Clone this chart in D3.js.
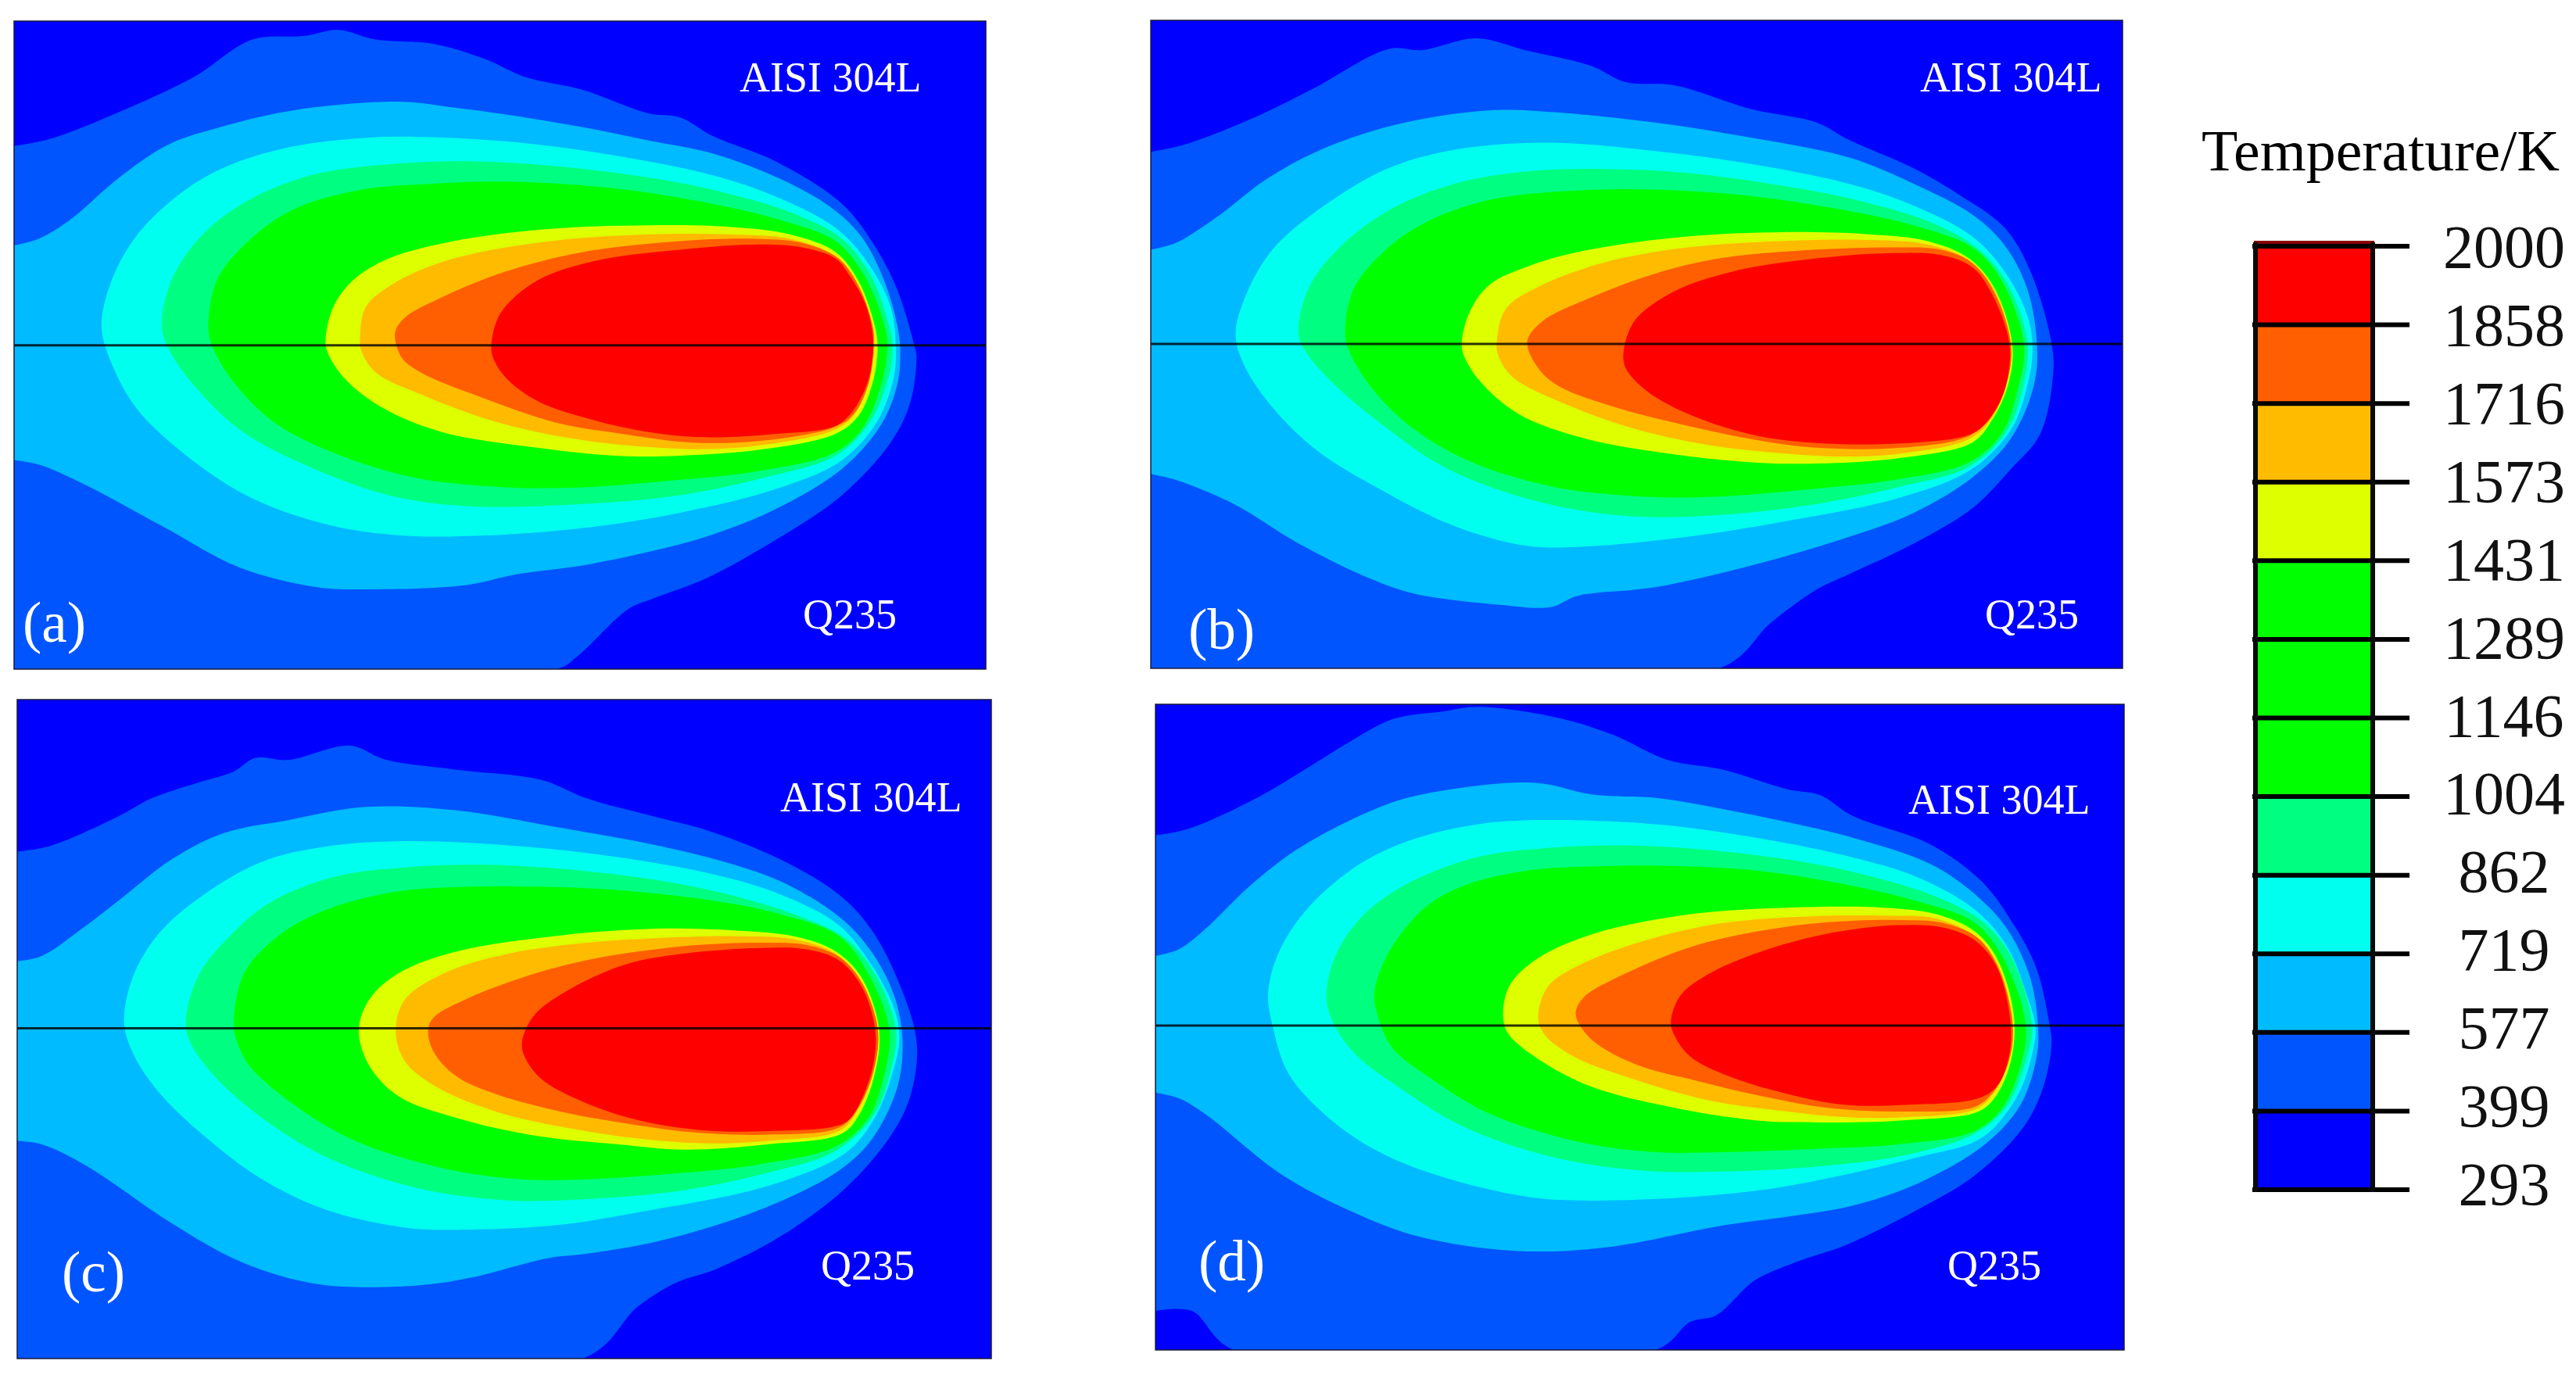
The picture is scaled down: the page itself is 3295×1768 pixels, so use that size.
<!DOCTYPE html>
<html><head><meta charset="utf-8">
<script src="https://d3js.org/d3.v7.min.js"></script>
<style>html,body{margin:0;padding:0;background:#fff}svg{display:block}text{font-family:"Liberation Serif",serif}</style>
</head><body><div id="c"></div>
<script>
// Colour legend
const legendTicks=["2000","1858","1716","1573","1431","1289","1146","1004","862","719","577","399","293"];
const legendColors=["#ff0000","#ff5f00","#ffbb00","#ddff00","#00ff00","#00ff00","#00ff00","#00ff80","#00ffee","#00bbff","#0055ff","#0000ff"];
// Colour of each contour band, outermost first
const bandColors=["#0055ff","#00bbff","#00ffee","#00ff80","#00ff00","#ddff00","#ffbb00","#ff5f00","#ff0000"];
const panelNames=["a","b","c","d"];
const plateLabels=["AISI 304L","Q235"];

// Contours (plate coordinates). Each array: 9 bands, outer to inner.
const contoursA=[
[[22,333],[75,318],[180,258],[300,175],[390,90],[470,82],[522,68],[580,90],[670,100],[750,135],[810,175],[900,205],[1000,258],[1050,268],[1100,310],[1200,370],[1300,465],[1350,560],[1385,660],[1412,790],[1415,815],[1405,920],[1375,1010],[1300,1130],[1200,1230],[1090,1320],[1010,1365],[970,1390],[890,1500],[860,1527],[22,1527]],
[[22,560],[60,545],[110,500],[180,410],[260,330],[340,290],[460,250],[620,232],[700,245],[800,265],[900,290],[1000,320],[1100,350],[1200,405],[1280,470],[1330,540],[1365,640],[1385,740],[1390,800],[1385,880],[1360,970],[1300,1070],[1200,1160],[1100,1220],[1000,1260],[900,1290],[800,1310],[720,1335],[560,1345],[490,1340],[370,1295],[250,1200],[130,1105],[60,1060],[22,1050]],
[[157,745],[170,650],[210,540],[280,440],[350,380],[450,335],[560,315],[640,312],[800,325],[950,355],[1100,400],[1200,450],[1290,520],[1340,600],[1375,700],[1383,790],[1380,860],[1355,960],[1300,1050],[1200,1115],[1050,1170],[900,1205],[750,1222],[620,1222],[500,1195],[380,1130],[280,1030],[210,930],[170,820]],
[[250,745],[265,640],[310,540],[380,460],[480,400],[600,375],[720,368],[850,378],[1000,405],[1120,440],[1230,490],[1300,545],[1345,630],[1370,730],[1378,790],[1370,870],[1340,970],[1290,1040],[1180,1090],[1050,1130],[900,1150],[720,1155],[600,1130],[470,1060],[370,980],[300,880],[262,800]],
[[322,745],[335,640],[380,555],[450,480],[550,435],[680,418],[800,415],[950,430],[1100,465],[1200,500],[1290,550],[1335,630],[1365,740],[1370,790],[1360,880],[1330,980],[1285,1035],[1170,1075],[1050,1095],[900,1112],[780,1112],[640,1090],[510,1030],[420,960],[360,870],[328,790]],
[[503,770],[515,700],[545,640],[600,590],[700,550],[850,522],[1000,514],[1130,518],[1220,535],[1290,575],[1325,640],[1350,740],[1355,790],[1348,870],[1325,950],[1290,990],[1180,1025],[1050,1040],[950,1040],[820,1020],[680,985],[590,930],[530,860],[505,800]],
[[556,770],[565,700],[610,645],[700,590],[850,550],[1000,535],[1130,535],[1220,545],[1290,585],[1325,650],[1348,750],[1350,790],[1342,870],[1320,945],[1290,980],[1180,1015],[1090,1025],[1000,1020],[880,1000],[760,960],[650,900],[580,850],[558,800]],
[[610,760],[625,725],[680,680],[780,620],[900,575],[1050,550],[1170,545],[1240,555],[1295,590],[1328,660],[1348,750],[1348,790],[1342,870],[1318,945],[1288,975],[1180,1005],[1070,1010],[960,990],[860,965],[740,905],[650,850],[620,815]],
[[760,770],[775,710],[830,640],[920,595],[1050,570],[1170,558],[1240,565],[1290,590],[1310,625],[1335,690],[1348,770],[1346,830],[1335,890],[1310,950],[1285,975],[1200,990],[1100,998],[1020,990],[920,960],[830,915],[780,860],[760,810]]
];
const contoursB=[
[[22,347],[75,330],[180,270],[270,205],[390,112],[440,115],[525,88],[600,115],[700,150],[755,188],[830,195],[950,250],[1050,280],[1100,320],[1200,385],[1270,445],[1340,520],[1380,620],[1412,780],[1415,850],[1395,990],[1350,1070],[1290,1160],[1200,1240],[1100,1310],[1050,1345],[980,1420],[900,1525],[22,1525]],
[[22,570],[60,555],[120,500],[200,410],[280,345],[400,285],[540,253],[630,255],[800,280],[950,315],[1100,360],[1200,420],[1290,490],[1340,560],[1375,660],[1390,790],[1385,880],[1350,1000],[1290,1090],[1200,1170],[1100,1225],[950,1290],[800,1340],[680,1360],[640,1385],[560,1380],[430,1355],[360,1320],[250,1240],[150,1150],[60,1095],[22,1082]],
[[153,760],[170,670],[210,570],[280,480],[380,390],[480,345],[630,326],[800,345],[950,375],[1100,420],[1200,470],[1290,540],[1340,620],[1375,720],[1383,800],[1375,880],[1350,980],[1290,1070],[1180,1135],[1000,1190],[850,1225],[680,1248],[600,1245],[490,1200],[380,1120],[280,1030],[210,930],[165,830]],
[[250,760],[265,660],[310,570],[390,480],[490,420],[600,392],[720,386],[850,395],[1000,425],[1120,460],[1230,510],[1300,570],[1345,650],[1375,780],[1370,870],[1345,980],[1285,1065],[1180,1110],[1050,1150],[900,1175],[760,1178],[620,1145],[480,1070],[380,970],[300,870],[260,800]],
[[322,760],[335,660],[385,570],[450,505],[550,455],[680,435],[800,433],[950,448],[1100,482],[1200,515],[1290,565],[1335,640],[1370,790],[1360,890],[1335,990],[1285,1055],[1170,1095],[1050,1115],[900,1133],[780,1133],[640,1110],[510,1050],[420,970],[360,880],[328,800]],
[[502,780],[515,710],[545,650],[610,605],[700,570],[850,540],[1000,530],[1130,535],[1220,550],[1285,590],[1325,660],[1352,790],[1345,880],[1320,960],[1290,1010],[1180,1045],[1050,1058],[950,1055],[820,1035],[690,1000],[590,945],[530,870],[505,810]],
[[556,780],[570,705],[620,655],[720,600],[850,565],[1000,550],[1130,548],[1220,558],[1285,595],[1325,665],[1350,790],[1342,880],[1320,955],[1285,1002],[1180,1035],[1090,1042],[1000,1035],[880,1015],[760,975],[650,915],[580,860],[558,810]],
[[603,780],[625,735],[700,680],[800,625],[900,590],[1050,570],[1170,565],[1240,570],[1290,600],[1325,670],[1350,790],[1342,880],[1318,950],[1285,995],[1180,1022],[1050,1022],[960,1005],[860,975],[740,930],[650,880],[620,840]],
[[752,800],[770,730],[830,665],[920,620],[1050,590],[1170,578],[1240,582],[1290,610],[1320,670],[1347,780],[1345,860],[1332,920],[1305,975],[1280,995],[1180,1012],[1060,1012],[960,995],[860,950],[790,895],[755,840]]
];
const contoursC=[
[[22,392],[75,378],[180,310],[230,270],[300,235],[355,210],[390,178],[440,183],[535,150],[590,182],[700,205],[830,228],[900,270],[1000,310],[1090,345],[1200,410],[1290,490],[1340,570],[1385,700],[1410,830],[1400,950],[1370,1040],[1300,1160],[1200,1270],[1100,1345],[1040,1375],[980,1430],[895,1549],[22,1549]],
[[22,642],[60,630],[120,570],[190,490],[260,410],[340,350],[440,320],[560,290],[700,298],[850,335],[1000,375],[1100,410],[1200,460],[1290,540],[1340,620],[1375,720],[1388,820],[1380,930],[1340,1050],[1290,1120],[1200,1190],[1100,1245],[1000,1285],[900,1310],[840,1320],[720,1365],[640,1382],[490,1380],[370,1330],[260,1240],[130,1110],[60,1060],[22,1052]],
[[187,780],[200,680],[240,580],[310,490],[400,415],[500,380],[620,368],[800,380],[950,405],[1100,445],[1200,490],[1290,560],[1340,650],[1375,750],[1383,820],[1370,910],[1345,1000],[1300,1080],[1180,1155],[1000,1210],[850,1245],[700,1255],[620,1250],[500,1210],[400,1140],[310,1040],[240,940],[200,850]],
[[282,780],[300,680],[340,600],[410,510],[510,450],[620,428],[730,422],[850,430],[1000,455],[1120,490],[1230,540],[1300,590],[1345,670],[1378,800],[1370,890],[1345,990],[1285,1075],[1180,1125],[1050,1165],[900,1185],[780,1188],[640,1160],[500,1090],[400,1000],[330,910],[290,830]],
[[356,780],[372,670],[420,590],[490,530],[600,485],[720,472],[830,472],[950,480],[1100,505],[1200,535],[1290,585],[1335,670],[1368,800],[1360,900],[1335,1000],[1285,1065],[1170,1105],[1050,1125],[900,1140],[800,1140],[680,1115],[540,1050],[440,960],[380,880],[360,820]],
[[549,800],[565,730],[610,670],[700,620],[850,585],[1000,568],[1130,572],[1220,585],[1285,620],[1325,680],[1352,800],[1345,900],[1322,990],[1295,1035],[1180,1060],[1050,1072],[950,1060],[820,1040],[700,1000],[610,950],[565,880]],
[[606,800],[620,730],[680,670],[780,625],[900,600],[1000,590],[1130,585],[1220,592],[1285,625],[1325,690],[1350,800],[1342,900],[1318,985],[1290,1030],[1180,1052],[1090,1058],[1000,1050],[880,1025],[760,985],[670,930],[620,870]],
[[656,800],[665,770],[720,725],[800,680],[900,640],[1050,608],[1170,600],[1240,605],[1290,632],[1325,690],[1350,800],[1342,900],[1318,980],[1290,1022],[1180,1038],[1060,1032],[960,1012],[860,985],[760,945],[700,905],[665,850]],
[[801,825],[820,765],[870,710],[960,650],[1050,625],[1170,612],[1240,615],[1290,640],[1325,700],[1345,790],[1345,860],[1330,940],[1305,1005],[1280,1020],[1180,1030],[1080,1028],[980,1005],[890,960],[830,910],[805,860]]
];
const contoursD=[
[[24,355],[75,340],[180,270],[260,200],[320,145],[390,90],[470,72],[520,62],[640,85],[730,125],[815,183],[900,205],[1000,250],[1050,263],[1100,310],[1220,375],[1300,460],[1350,560],[1385,660],[1405,790],[1408,830],[1395,930],[1365,1020],[1290,1130],[1200,1210],[1090,1290],[1020,1325],[950,1370],[890,1450],[850,1465],[797,1529],[145,1529],[80,1440],[24,1440]],
[[24,630],[60,615],[100,570],[170,470],[250,380],[380,285],[460,255],[610,235],[700,262],[800,270],[900,295],[1000,325],[1100,360],[1220,420],[1290,490],[1340,570],[1375,680],[1387,790],[1385,860],[1360,970],[1305,1060],[1200,1150],[1100,1200],[1000,1225],[900,1245],[720,1295],[580,1303],[430,1270],[330,1215],[220,1130],[100,990],[60,955],[24,942]],
[[198,715],[215,620],[260,520],[340,420],[420,365],[520,330],[620,320],[800,330],[950,360],[1100,405],[1200,450],[1290,525],[1340,610],[1370,720],[1383,790],[1380,840],[1355,950],[1300,1045],[1200,1090],[1000,1155],[850,1180],[680,1188],[600,1180],[480,1140],[380,1085],[300,1010],[230,900],[205,790]],
[[288,715],[305,620],[350,530],[420,460],[520,405],[620,385],[730,378],[850,385],[1000,410],[1120,445],[1230,495],[1300,550],[1345,630],[1378,790],[1370,860],[1340,970],[1290,1035],[1180,1085],[1050,1110],[900,1122],[780,1120],[640,1090],[500,1020],[400,930],[330,850],[295,770]],
[[362,715],[385,620],[440,520],[500,470],[600,435],[720,425],[830,425],[950,435],[1100,470],[1200,505],[1290,555],[1335,640],[1368,789],[1360,880],[1330,980],[1285,1032],[1170,1060],[1050,1070],[900,1078],[800,1078],[680,1055],[540,990],[450,910],[390,840],[368,770]],
[[561,770],[570,700],[610,640],[700,580],[850,535],[1000,520],[1150,520],[1230,535],[1290,575],[1325,640],[1350,770],[1345,870],[1322,950],[1295,985],[1180,1005],[1050,1010],[950,1005],[820,975],[700,930],[620,870],[570,810]],
[[615,770],[630,700],[680,650],[780,595],[900,555],[1030,540],[1150,538],[1230,545],[1290,585],[1325,650],[1348,789],[1342,870],[1318,945],[1290,980],[1180,998],[1090,998],[1000,985],[880,960],[760,910],[670,860],[625,810]],
[[673,760],[685,725],[750,670],[850,610],[950,575],[1050,555],[1170,548],[1240,555],[1295,590],[1328,665],[1348,789],[1342,870],[1318,940],[1288,975],[1180,985],[1070,978],[960,950],[860,915],[770,880],[705,830],[680,790]],
[[820,780],[835,720],[880,670],[960,620],[1060,580],[1170,560],[1240,565],[1290,595],[1325,660],[1345,789],[1342,860],[1325,925],[1295,955],[1180,970],[1090,970],[1000,945],[910,905],[850,860],[825,810]]
];
const contourSets=[contoursA,contoursB,contoursC,contoursD];
const seamLevels=[788,785,795,789];
const plateDomainsX=[[22,1522],[22,1522],[22,1525],[24,1520]];
const plateDomainsY=[[48,1527],[47,1525],[45,1549],[56,1529]];

// Layout
const W=3295,H=1768;
const frames=[{x0:18,x1:1261,y0:27,y1:856},{x0:1472,x1:2715,y0:26,y1:855},{x0:22,x1:1268,y0:895,y1:1738},{x0:1478,x1:2717,y0:901,y1:1727}];
const labelPos=[
 {ax:946,ay:117,qx:1027,qy:804,nx:29,ny:821},
 {ax:2456,ay:117,qx:2539,qy:804,nx:1520,ny:830},
 {ax:998,ay:1038,qx:1050,qy:1637,nx:79,ny:1652},
 {ax:2441,ay:1041,qx:2491,qy:1637,nx:1533,ny:1638}];

const svg=d3.select("#c").append("svg").attr("width",W).attr("height",H).attr("viewBox",[0,0,W,H]);
svg.append("rect").attr("width",W).attr("height",H).attr("fill","#fff");
const defs=svg.append("defs");

contourSets.forEach((bands,i)=>{
  const f=frames[i];
  const x=d3.scaleLinear().domain(plateDomainsX[i]).range([f.x0,f.x1]);
  const y=d3.scaleLinear().domain(plateDomainsY[i]).range([f.y0,f.y1]);
  const open=d3.line().x(d=>x(d[0])).y(d=>y(d[1])).curve(d3.curveCatmullRom.alpha(0.5));
  const smooth=d3.line().x(d=>x(d[0])).y(d=>y(d[1])).curve(d3.curveCatmullRomClosed.alpha(0.5));
  const id="clip"+panelNames[i];
  defs.append("clipPath").attr("id",id).append("rect").attr("x",f.x0).attr("y",f.y0).attr("width",f.x1-f.x0).attr("height",f.y1-f.y0);
  const g=svg.append("g").attr("class","panel");
  const inner=g.append("g").attr("clip-path",`url(#${id})`);
  inner.append("rect").attr("x",f.x0).attr("y",f.y0).attr("width",f.x1-f.x0).attr("height",f.y1-f.y0).attr("fill","#0000ff");
  inner.selectAll("path").data(bands).join("path")
    .attr("d",(d,k)=>k<2?open(d)+"Z":smooth(d))
    .attr("fill",(d,k)=>bandColors[k]);
  g.append("line").attr("x1",f.x0).attr("x2",f.x1).attr("y1",y(seamLevels[i])).attr("y2",y(seamLevels[i]))
    .attr("stroke","#000").attr("stroke-opacity",0.8).attr("stroke-width",3);
  g.append("rect").attr("x",f.x0).attr("y",f.y0).attr("width",f.x1-f.x0).attr("height",f.y1-f.y0)
    .attr("fill","none").attr("stroke","#1a1a3a").attr("stroke-width",1.5);
  const p=labelPos[i];
  const t=g.append("g").attr("fill","#fff");
  t.append("text").attr("x",p.ax).attr("y",p.ay).attr("font-size",54).text(plateLabels[0]);
  t.append("text").attr("x",p.qx).attr("y",p.qy).attr("font-size",54).text(plateLabels[1]);
  t.append("text").attr("x",p.nx).attr("y",p.ny).attr("font-size",73).text(`(${panelNames[i]})`);
});

// Colour bar
const barY=d3.scalePoint().domain(legendTicks).range([315,1522]);
const labelY=d3.scalePoint().domain(legendTicks).range([342,1541]);
const barX0=2885,barX1=3035,tickEnd=3082;
const bar=svg.append("g").attr("class","legend");
bar.append("text").attr("x",2816).attr("y",218).attr("font-size",75).attr("textLength",458).attr("lengthAdjust","spacingAndGlyphs").text("Temperature/K");
bar.append("rect").attr("x",barX0-2).attr("y",308).attr("width",barX1-barX0+4).attr("height",8).attr("fill","#8a0000");
bar.selectAll("rect.band").data(legendColors).join("rect").attr("class","band")
  .attr("x",barX0).attr("width",barX1-barX0)
  .attr("y",(d,i)=>barY(legendTicks[i]))
  .attr("height",(d,i)=>barY(legendTicks[i+1])-barY(legendTicks[i]))
  .attr("fill",d=>d);
bar.selectAll("line.tick").data(legendTicks).join("line").attr("class","tick")
  .attr("x1",barX0-4).attr("x2",tickEnd).attr("y1",d=>barY(d)).attr("y2",d=>barY(d))
  .attr("stroke","#000").attr("stroke-width",6);
[barX0,barX1].forEach(v=>bar.append("line").attr("x1",v).attr("x2",v).attr("y1",310).attr("y2",1525)
  .attr("stroke","#0a0a0a").attr("stroke-width",6));
bar.selectAll("text.lab").data(legendTicks).join("text").attr("class","lab")
  .attr("x",3203).attr("y",d=>labelY(d)).attr("text-anchor","middle").attr("font-size",78).attr("fill","#111")
  .text(d=>d);
</script></body></html>
